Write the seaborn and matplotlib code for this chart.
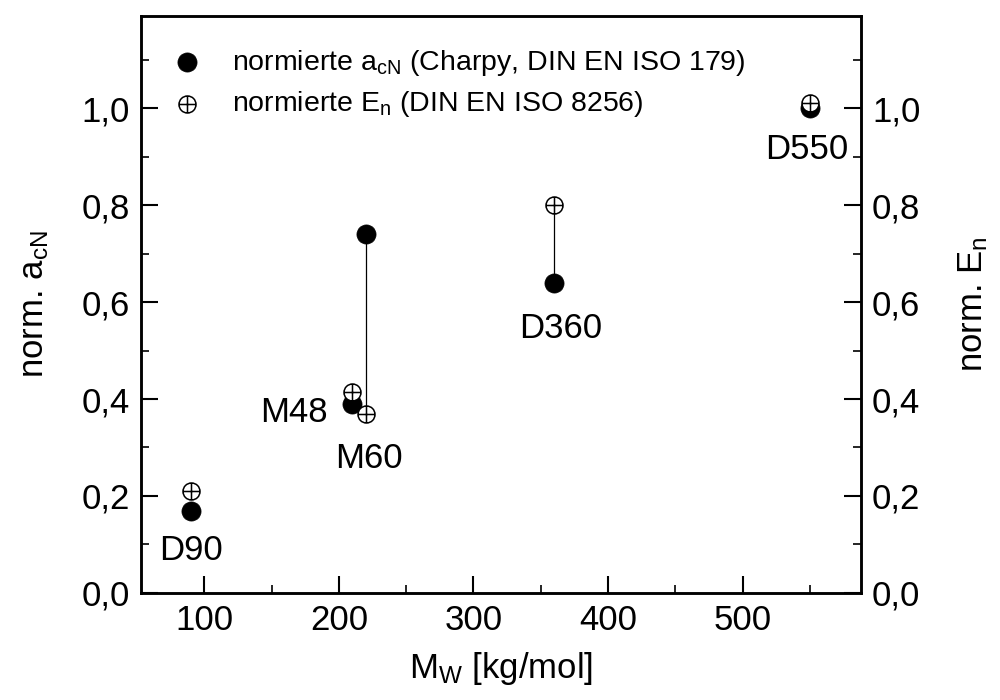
import numpy as np
import pandas as pd
import matplotlib
matplotlib.use("Agg")
import matplotlib.pyplot as plt
from matplotlib.path import Path
from matplotlib.ticker import MultipleLocator, FuncFormatter
import seaborn as sns

# ---- data ----
samples = ["D90", "M48", "M60", "D360", "D550"]
mw = [90, 210, 220, 360, 550]
acn_norm = [0.17, 0.39, 0.74, 0.64, 1.00]
en_norm = [0.21, 0.415, 0.37, 0.80, 1.01]
linked = ["M60", "D360"]
legend_labels = [r"normierte a$_{\mathregular{cN}}$ (Charpy, DIN EN ISO 179)",
                 r"normierte E$_{\mathregular{n}}$ (DIN EN ISO 8256)"]

df = pd.DataFrame({"sample": samples, "mw": mw, "acn": acn_norm, "en": en_norm})

sns.set_theme(style="ticks")
plt.rcParams["font.family"] = ["Liberation Sans", "DejaVu Sans"]
plt.rcParams["mathtext.fontset"] = "custom"
plt.rcParams["mathtext.rm"] = "Liberation Sans"
plt.rcParams["mathtext.it"] = "Liberation Sans"
for k in ["text.color", "axes.labelcolor", "xtick.color", "ytick.color", "axes.edgecolor"]:
    plt.rcParams[k] = "black"

fig = plt.figure(figsize=(10, 7), dpi=100)
ax = fig.add_axes([0.141, 0.153, 0.72, 0.824])

# connecting lines
dl = df[df["sample"].isin(linked)]
ax.vlines(dl["mw"], dl["acn"], dl["en"], color="black", lw=0.9, zorder=1)

# crossed circle marker
oplus = Path.make_compound_path(
    Path.unit_circle(),
    Path([(-1, 0), (1, 0)], [Path.MOVETO, Path.LINETO]),
    Path([(0, -1), (0, 1)], [Path.MOVETO, Path.LINETO]),
)

sns.scatterplot(data=df, x="mw", y="acn", ax=ax, marker="o", s=190,
                color="black", edgecolor="black", linewidth=0.5, zorder=3,
                label=legend_labels[0], legend=False)
sns.scatterplot(data=df, x="mw", y="en", ax=ax, marker=oplus, s=150,
                facecolor="white", edgecolor="black", linewidth=1.1, zorder=4,
                label=legend_labels[1], legend=False)

# labels
fs = 25
offsets = {"D90": (0, -0.082, "center"), "M48": (-18, -0.03, "right"),
           "M60": (2, -0.093, "center"), "D360": (5, -0.095, "center"),
           "D550": (-2, -0.085, "center")}
for s, x, ya, ye in zip(samples, mw, acn_norm, en_norm):
    dx, dy, ha = offsets[s]
    if s == "M48":
        yy = (ya + ye) / 2
    elif s == "M60":
        yy = ye
    else:
        yy = min(ya, ye)
    ax.text(x + dx, yy + dy, s, ha=ha, va="center", fontsize=fs, color="black")

ax.set_xlim(53, 588)
ax.set_ylim(0, 1.19)
ax.xaxis.set_major_locator(MultipleLocator(100))
ax.xaxis.set_minor_locator(MultipleLocator(50))
ax.yaxis.set_major_locator(MultipleLocator(0.2))
ax.yaxis.set_minor_locator(MultipleLocator(0.1))
fmt = FuncFormatter(lambda v, p: f"{v:.1f}".replace(".", ","))
ax.yaxis.set_major_formatter(fmt)
ax.tick_params(which="major", direction="in", length=12, width=1.5, labelsize=fs, pad=8,
               colors="black")
ax.tick_params(which="minor", direction="in", length=6, width=1.2, colors="black")
for sp in ax.spines.values():
    sp.set_linewidth(1.8)
    sp.set_color("black")
    sp.set_visible(True)

ax.set_xlabel(r"M$_{\mathregular{W}}$ [kg/mol]", fontsize=fs, labelpad=9)
ax.set_ylabel(r"norm. a$_{\mathregular{cN}}$", fontsize=fs, labelpad=22)

ax2 = ax.twinx()
ax2.set_ylim(ax.get_ylim())
ax2.yaxis.set_major_locator(MultipleLocator(0.2))
ax2.yaxis.set_minor_locator(MultipleLocator(0.1))
ax2.yaxis.set_major_formatter(fmt)
ax2.tick_params(which="major", direction="in", length=12, width=1.5, labelsize=fs, pad=8,
                colors="black")
ax2.tick_params(which="minor", direction="in", length=6, width=1.2, colors="black")
ax2.set_ylabel(r"norm. E$_{\mathregular{n}}$", fontsize=fs, labelpad=26)
for sp in ax2.spines.values():
    sp.set_linewidth(1.8)
    sp.set_color("black")

ax.legend(loc="upper left", frameon=False, fontsize=20.5, handletextpad=0.6,
          borderaxespad=0.3, labelspacing=0.4, bbox_to_anchor=(0.0, 0.975),
          borderpad=0.3)

fig.savefig("out.png", dpi=100)
